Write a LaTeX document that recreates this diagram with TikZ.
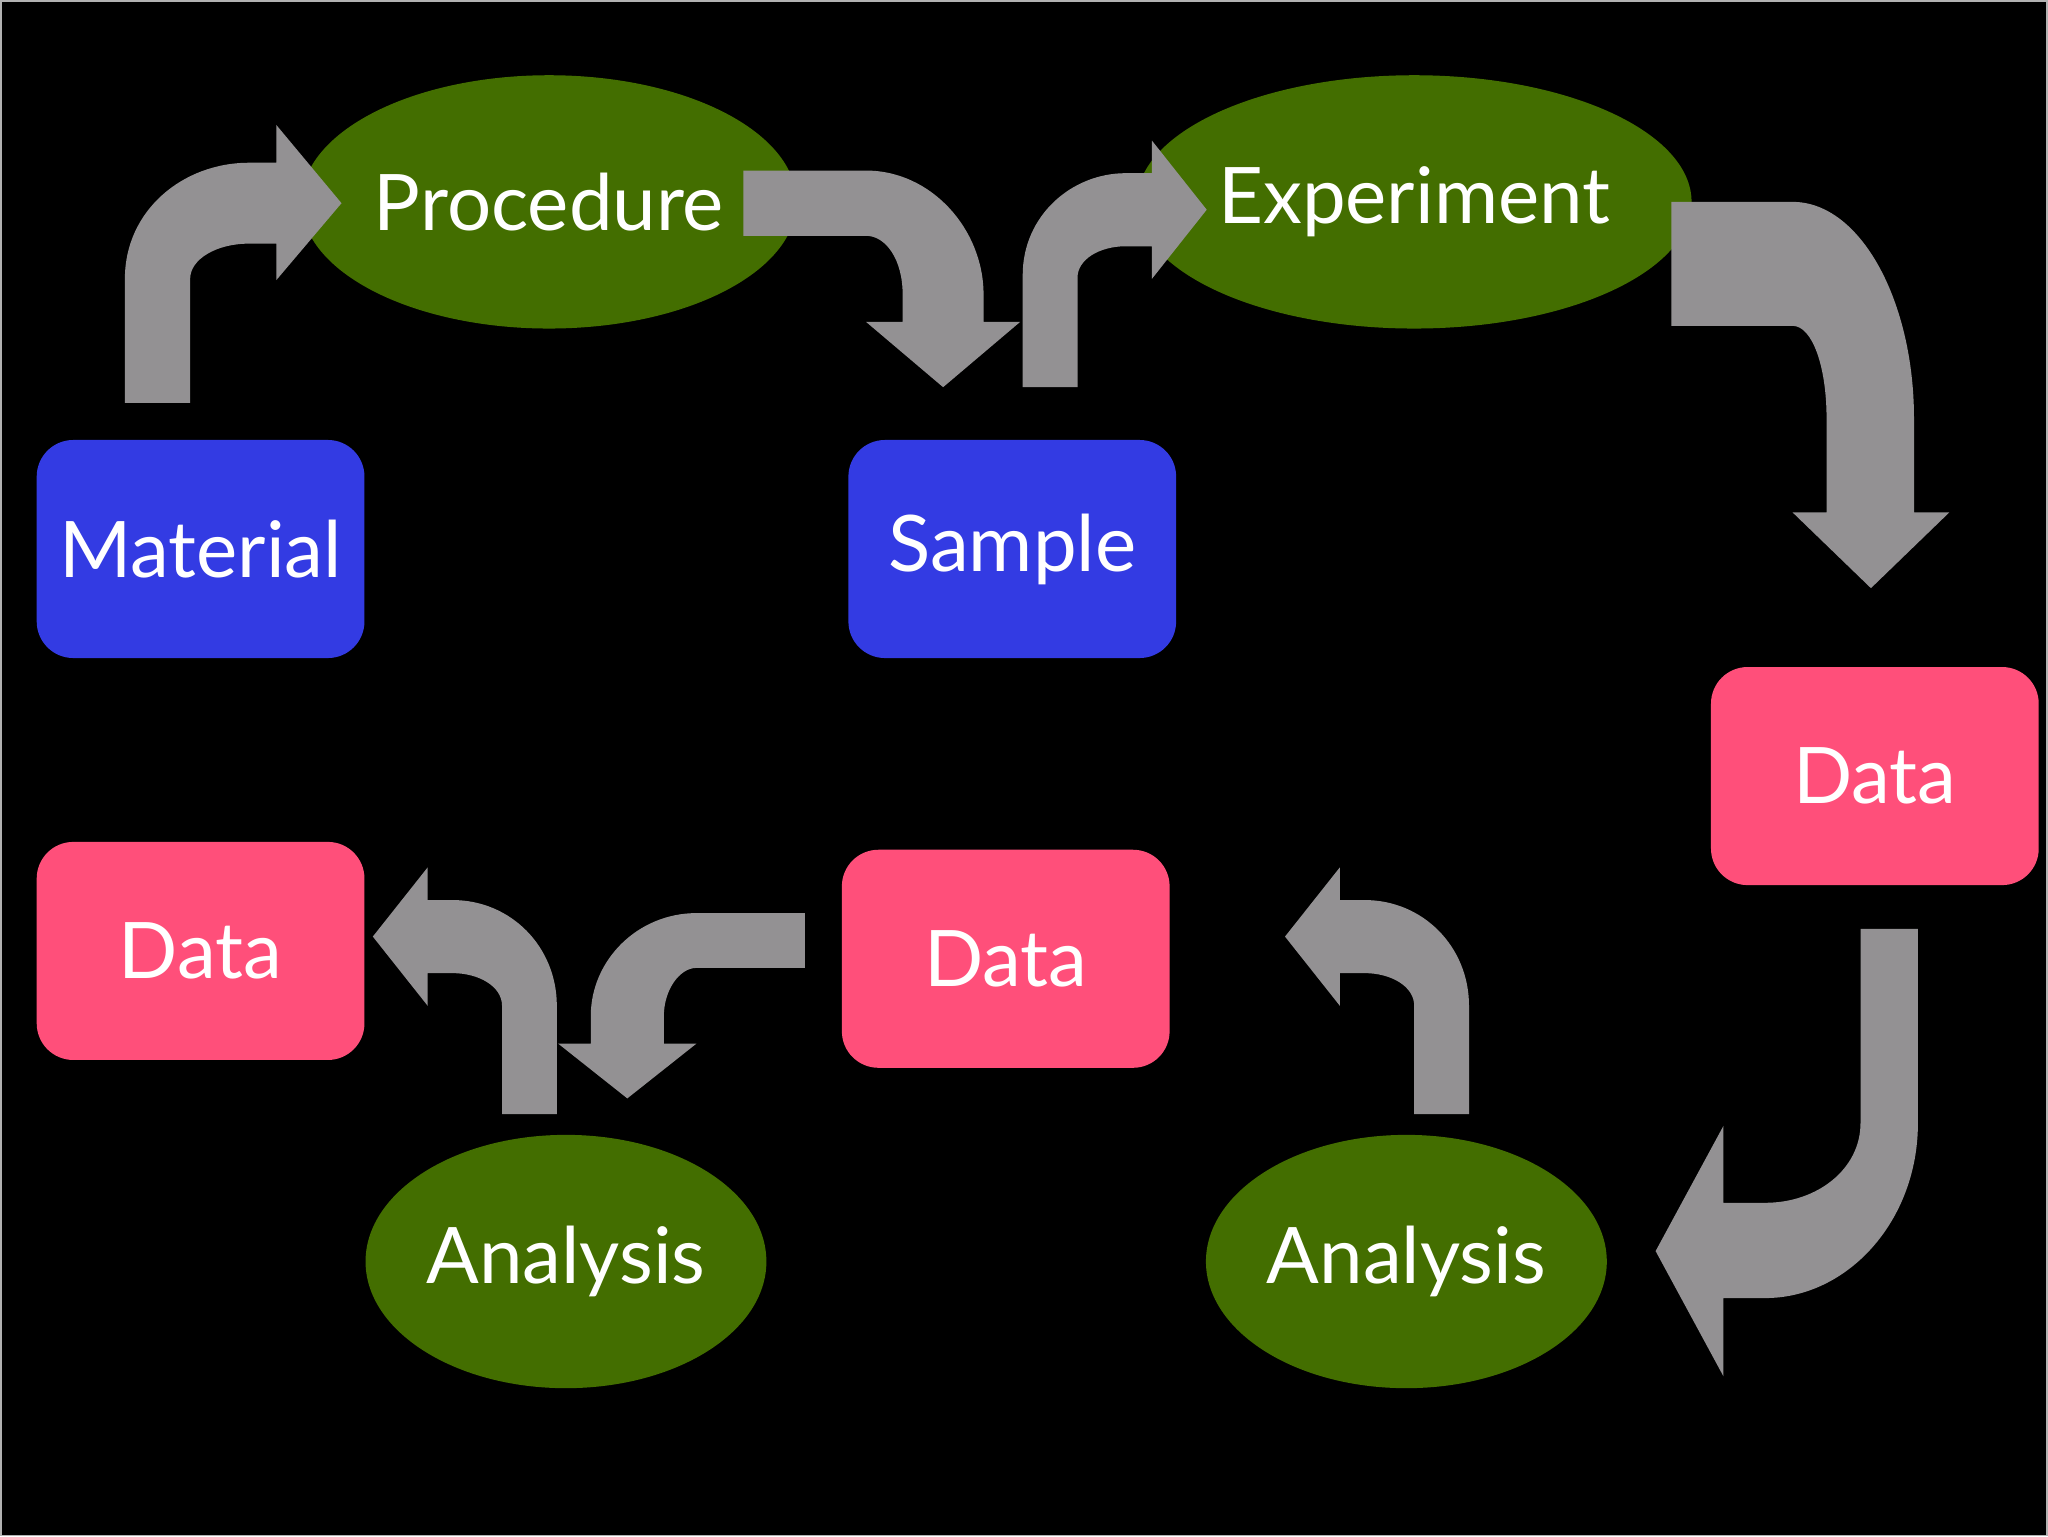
\documentclass[tikz,border=0pt]{standalone}
\usepackage{fontspec}
\setmainfont{Lato}
\usetikzlibrary{shapes.geometric}
\definecolor{boxblue}{HTML}{333BE3}
\definecolor{stepgreen}{HTML}{436E00}
\definecolor{datapink}{HTML}{FF4F7A}
\definecolor{flowgrey}{HTML}{939193}
\tikzset{
  box/.style={rectangle, rounded corners=0.28cm, minimum width=2.51cm, minimum height=1.67cm, text=white, font=\fontsize{17}{19}\selectfont},
  material/.style={box, fill=boxblue},
  data/.style={box, fill=datapink},
  stage/.style={ellipse, fill=stepgreen, text=white, inner sep=0pt, font=\fontsize{17}{19}\selectfont},
  flow/.style={fill=flowgrey}
}
\begin{document}
\begin{tikzpicture}[x=0.01cm, y=-0.01cm]
  \fill[black, draw=gray!60, line width=0.4pt] (0,0) rectangle (1568,1176);

  \node [material] (material) at (153,420) {Material};
  \node [material] (sample) at (775,420) {Sample};
  \node [data] (data_r) at (1436,594) {Data};
  \node [data] (data_m) at (770,734) {Data};
  \node [data] (data_l) at (153,728) {Data};
  \node [stage, minimum width=2.79cm, minimum height=1.94cm] (procedure) at (420,154) {Procedure};
  \node [stage, minimum width=3.07cm, minimum height=1.94cm] (experiment) at (1083,154) {Experiment};
  \node [stage, minimum width=3.07cm, minimum height=1.94cm] (analysis_l) at (433,966) {Analysis};
  \node [stage, minimum width=3.07cm, minimum height=1.94cm] (analysis_r) at (1077,966) {Analysis};

  % material -> procedure
  \fill[flow] (95,308) -- (95,213) .. controls (95,160) and (140,124) .. (190,124) -- (211,124) -- (211,95) -- (261,155) -- (211,214) -- (211,186) -- (190,186) .. controls (165,186) and (145,198) .. (145,213) -- (145,308) -- cycle;
  % procedure -> sample
  \fill[flow] (569,130) -- (663,130) .. controls (713,130) and (753,175) .. (753,225) -- (753,246) -- (781,246) -- (722,296) -- (663,246) -- (691,246) -- (691,225) .. controls (691,198) and (678,180) .. (663,180) -- (569,180) -- cycle;
  % sample -> experiment
  \fill[flow] (783,296) -- (783,210) .. controls (783,165) and (820,132) .. (862,132) -- (882,132) -- (882,107) -- (924,160) -- (882,213) -- (882,188) -- (862,188) .. controls (842,188) and (825,198) .. (825,212) -- (825,296) -- cycle;
  % experiment -> data
  \fill[flow] (1280,154) -- (1373,154) .. controls (1425,154) and (1466,230) .. (1466,320) -- (1466,392) -- (1493,392) -- (1433,450) -- (1373,392) -- (1399,392) -- (1399,320) .. controls (1399,280) and (1388,249) .. (1373,249) -- (1280,249) -- cycle;
  % data -> analysis
  \fill[flow] (1425,711) -- (1469,711) -- (1469,860) .. controls (1469,935) and (1415,994) .. (1352,994) -- (1320,994) -- (1320,1054) -- (1268,958) -- (1320,862) -- (1320,921) -- (1352,921) .. controls (1392,921) and (1425,895) .. (1425,860) -- cycle;
  % analysis -> data
  \fill[flow] (1083,853) -- (1083,770) .. controls (1083,755) and (1065,745) .. (1045,745) -- (1026,745) -- (1026,770) -- (984,717) -- (1026,664) -- (1026,689) -- (1045,689) .. controls (1090,689) and (1125,725) .. (1125,770) -- (1125,853) -- cycle;
  % data -> analysis
  \fill[flow] (616,699) -- (533,699) .. controls (488,699) and (452,735) .. (452,778) -- (452,799) -- (427,799) -- (480,841) -- (533,799) -- (508,799) -- (508,778) .. controls (508,758) and (520,741) .. (533,741) -- (616,741) -- cycle;
  % analysis -> data
  \fill[flow] (384,853) -- (384,770) .. controls (384,755) and (366,745) .. (346,745) -- (327,745) -- (327,770) -- (285,717) -- (327,664) -- (327,689) -- (346,689) .. controls (391,689) and (426,725) .. (426,770) -- (426,853) -- cycle;
\end{tikzpicture}
\end{document}
